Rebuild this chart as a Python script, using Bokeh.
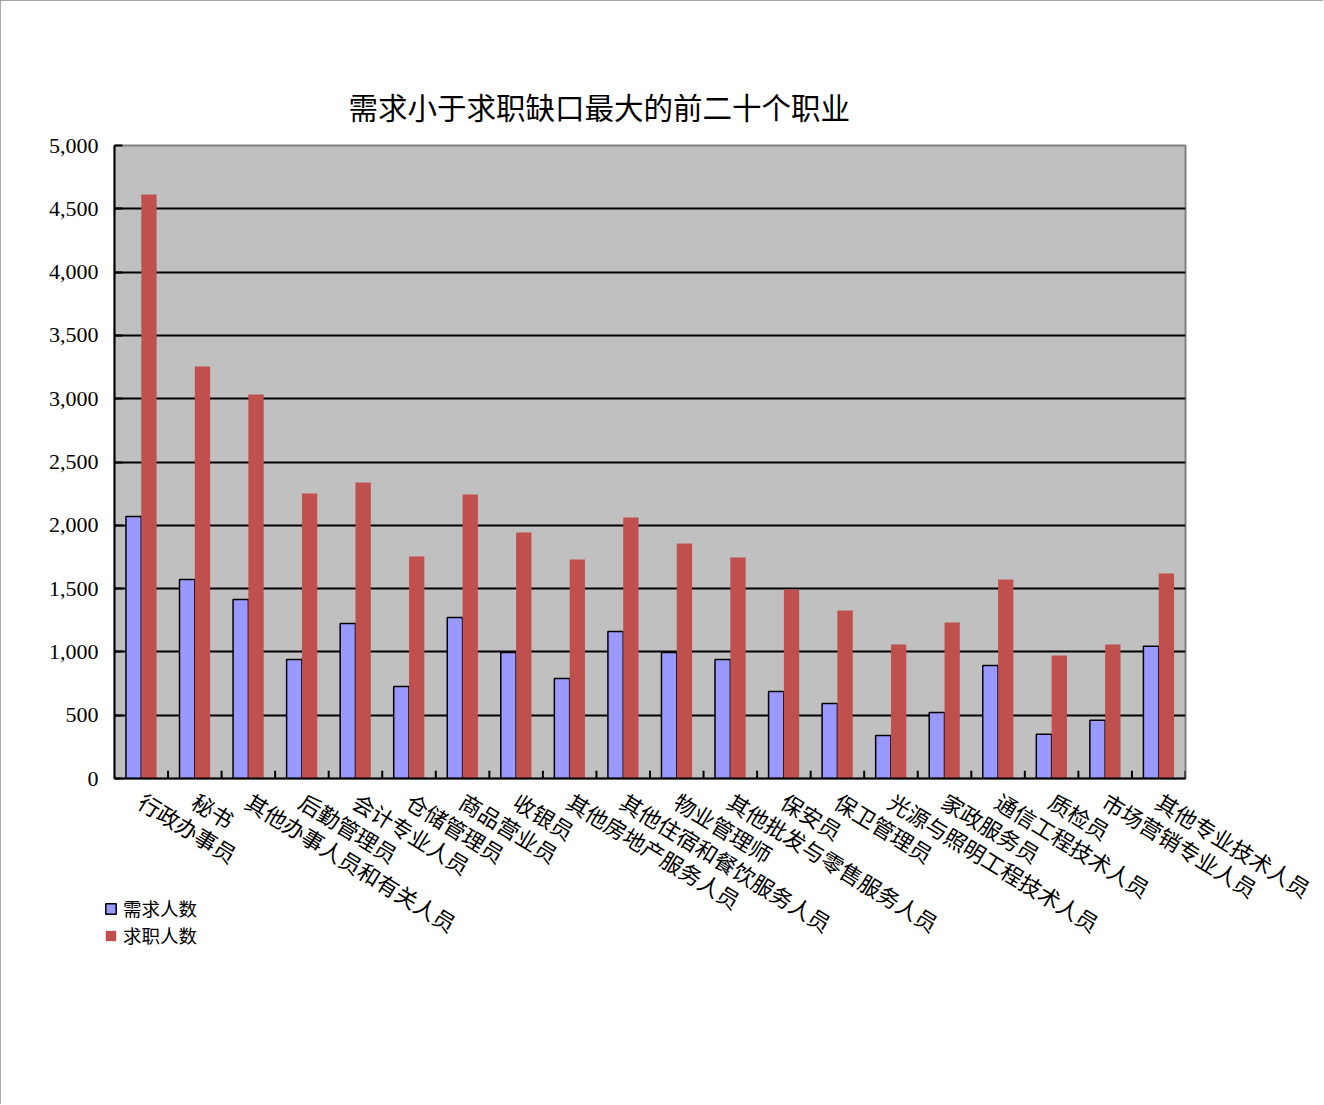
from bokeh.plotting import figure
from bokeh.layouts import column
from bokeh.models import (FactorRange, Range1d, Legend, LegendItem,
                          NumeralTickFormatter, SingleIntervalTicker, ColumnDataSource)
from bokeh.transform import dodge
from bokeh.embed import file_html
from bokeh.resources import INLINE

categories = ["行政办事员", "秘书", "其他办事人员和有关人员", "后勤管理员", "会计专业人员",
              "仓储管理员", "商品营业员", "收银员", "其他房地产服务人员", "其他住宿和餐饮服务人员",
              "物业管理师", "其他批发与零售服务人员", "保安员", "保卫管理员", "光源与照明工程技术人员",
              "家政服务员", "通信工程技术人员", "质检员", "市场营销专业人员", "其他专业技术人员"]
demand = [2070, 1572, 1414, 940, 1224, 727, 1272, 995, 790, 1161,
          995, 940, 687, 592, 340, 521, 893, 350, 460, 1045]
seekers = [4613, 3254, 3033, 2251, 2338, 1754, 2243, 1943, 1730, 2062,
           1856, 1746, 1493, 1327, 1058, 1232, 1572, 972, 1058, 1619]
series_names = ["需求人数", "求职人数"]
title_text = "需求小于求职缺口最大的前二十个职业"

CJK = "Noto Sans CJK SC"
BLUE = "#9999FF"
RED = "#C0504D"

src = ColumnDataSource(dict(cat=categories, demand=demand, seekers=seekers))

W, H = 1323, 1104
p = figure(width=W, height=H, output_backend="svg", toolbar_location=None,
           x_range=FactorRange(factors=categories, range_padding=0),
           y_range=Range1d(0, 5000),
           min_border_left=114, min_border_right=138,
           min_border_top=145, min_border_bottom=326)
p.styles = {"outline": "2px solid #8a8a8a", "outline-offset": "-2px"}

p.background_fill_color = "#C0C0C0"
p.border_fill_color = "white"
p.outline_line_color = "#808080"
p.outline_line_width = 2

p.vbar(x=dodge("cat", -0.143, range=p.x_range), top="demand", width=0.286,
       source=src, fill_color=BLUE, line_color="black", line_width=1.5)
p.vbar(x=dodge("cat", 0.143, range=p.x_range), top="seekers", width=0.286,
       source=src, fill_color=RED, line_color=None)

# category boundary tick marks (inside the frame, pointing up)
bounds = list(range(1, len(categories) + 1))
p.segment(x0=bounds, y0=[0] * len(bounds), x1=bounds, y1=[62] * len(bounds),
          line_color="black", line_width=2)

# y axis
p.yaxis.ticker = SingleIntervalTicker(interval=500)
p.yaxis.formatter = NumeralTickFormatter(format="0,0")
p.yaxis.axis_line_color = "black"
p.yaxis.axis_line_width = 2
p.yaxis.major_tick_in = 8
p.yaxis.major_tick_out = 0
p.yaxis.major_tick_line_width = 2
p.yaxis.minor_tick_line_color = None
p.yaxis.major_label_text_font = "Liberation Serif"
p.yaxis.major_label_text_font_size = "22px"
p.yaxis.major_label_text_color = "black"
p.yaxis.major_label_standoff = 12

# x axis
p.xaxis.axis_line_color = "black"
p.xaxis.axis_line_width = 2
p.xaxis.major_tick_line_color = None
p.xaxis.minor_tick_line_color = None
p.xaxis.major_label_orientation = -0.55
p.xaxis.major_label_text_font = CJK
p.xaxis.major_label_text_font_size = "22px"
p.xaxis.major_label_text_color = "black"
p.xaxis.major_label_standoff = 14

# grid
p.xgrid.grid_line_color = None
p.ygrid.grid_line_color = "black"
p.ygrid.grid_line_width = 2

# title
p.title.text = title_text
p.title.align = "left"
p.title.offset = 234
p.title.text_font = CJK
p.title.text_font_size = "29.5px"
p.title.text_font_style = "normal"
p.title.text_color = "black"
p.title.standoff = 38

# legend: a small transparent figure laid over the lower-left corner;
# its renderers are hidden, so only the legend is visible
lg = figure(width=140, height=66, output_backend="svg", toolbar_location=None,
            x_range=FactorRange(factors=categories, range_padding=0),
            y_range=Range1d(0, 5000),
            min_border=0, min_border_left=0, min_border_right=0,
            min_border_top=0, min_border_bottom=0)
lg.axis.visible = False
lg.grid.visible = False
lg.outline_line_color = None
lg.background_fill_alpha = 0
lg.border_fill_alpha = 0
lg.styles = {"position": "absolute", "left": "102px", "top": "895px"}
ld = lg.vbar(x=dodge("cat", -0.143, range=lg.x_range), top="demand", width=0.286,
             source=src, fill_color=BLUE, line_color="black", line_width=1.5)
ls = lg.vbar(x=dodge("cat", 0.143, range=lg.x_range), top="seekers", width=0.286,
             source=src, fill_color=RED, line_color=None)
ld.visible = False
ls.visible = False
legend = Legend(items=[LegendItem(label=series_names[0], renderers=[ld]),
                       LegendItem(label=series_names[1], renderers=[ls])],
                location="top_left", orientation="vertical",
                background_fill_alpha=0, border_line_color=None,
                inactive_fill_alpha=0,
                label_text_font=CJK, label_text_font_size="18.5px",
                label_text_color="black",
                glyph_width=13, glyph_height=13, label_height=20,
                spacing=1, padding=0, margin=0, label_standoff=6)
lg.add_layout(legend)

page = column(p, lg)
open("out.html", "w").write(file_html(page, INLINE))
